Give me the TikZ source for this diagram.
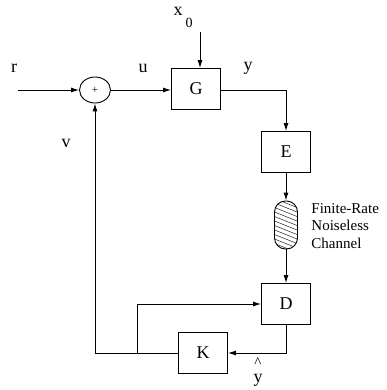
\documentclass[tikz,border=0pt]{standalone}
\usepackage{fontspec}
\setmainfont{Liberation Serif}
\usetikzlibrary{arrows.meta,shapes.geometric}
\tikzset{
  block/.style={draw, rectangle, minimum width=49pt, minimum height=41pt,
    inner sep=0pt, font=\fontsize{18}{20}\selectfont},
  lbl/.style={font=\fontsize{18}{20}\selectfont, inner sep=0pt},
  channel/.style={draw, rectangle, rounded corners=11pt, minimum width=23pt,
    minimum height=48pt, inner sep=0pt,
    path picture={\foreach \i in {-16,-11.5,...,60}
      \draw[line width=0.4pt] ([yshift=-\i pt]path picture bounding box.north west) -- ++(30pt,-12pt);}}
}
\begin{document}
\begin{tikzpicture}[>={Latex[length=8pt,width=5pt]}, x=1pt, y=-1pt, line width=0.9pt]
\useasboundingbox (0,0) rectangle (387,390);
% Summierer und Bloecke
\node[draw, ellipse, minimum width=31pt, minimum height=26pt, inner sep=0pt,
  font=\fontsize{11}{12}\selectfont] (sum) at (95,90) {+};
\node[block] (G) at (196,89) {G};
\node[block] (E) at (286,152) {E};
\node[channel] (chan) at (286,225) {};
\node[block] (D) at (286,304) {D};
\node[block] (K) at (203,353) {K};
% Freie Enden
\coordinate (rin) at (18,90);
\coordinate (xin) at (200,32);
\coordinate (junc) at (137,353);
% Beschriftungen
\node[lbl] (lr) at (14,68) {r};
\node[lbl] (lu) at (143,68) {u};
\node[lbl] (ly) at (248,68) {y};
\node[lbl] (lv) at (66,143) {v};
\node[lbl] (lx) at (178,11) {x};
\node[lbl, font=\fontsize{14}{16}\selectfont] (lx0) at (189,23) {0};
\node[lbl] (lyhat) at (258,372) {\shortstack{\fontsize{15}{15}\selectfont\^{}\\[3pt]y}};
\node[anchor=west, align=left, inner sep=0pt,
  font=\fontsize{15}{17.5}\selectfont] (ltext) at (311,226)
  {Finite-Rate\\Noiseless\\Channel};
% Vorwaertszweig
\draw[->] (rin) -- (sum);
\draw[->] (sum) -- (sum -| G.west);
\draw[->] (xin) -- (xin |- G.north);
\draw[->] (G.east |- sum) -| (E.north);
\draw[->] (E) -- (chan);
\draw[->] (chan) -- (D);
% Rueckfuehrung
\draw[->] (D.south) |- (K.east);
\draw[->] (K.west) -| (sum.south);
\draw[->] (junc) |- (D.west);
\end{tikzpicture}
\end{document}
